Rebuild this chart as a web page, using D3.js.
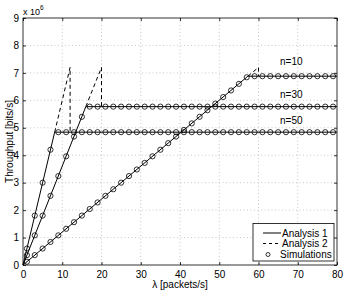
<!DOCTYPE html>
<html><head><meta charset="utf-8">
<script src="https://cdn.jsdelivr.net/npm/d3@7"></script>
<style>body{margin:0;background:#fff}svg{display:block;font-family:"Liberation Sans",Arial,sans-serif}</style>
</head><body>
<svg id="c" width="346" height="292"></svg>
<script>
const xTicks = [0,10,20,30,40,50,60,70,80];
const yTicks = [0,1,2,3,4,5,6,7,8,9];
const simLambda = [1,3,5,7,9,11,13,15,17,19,21,23,25,27,29,31,33,35,37,39,41,43,45,47,49,51,53,55,57,59,61,63,65,67,69,71,73,75,77,79];
const sim10 = [0.12,0.36,0.60,0.84,1.08,1.32,1.56,1.80,2.04,2.28,2.52,2.76,3.00,3.24,3.48,3.72,3.96,4.20,4.44,4.68,4.92,5.16,5.40,5.64,5.88,6.12,6.36,6.60,6.84,6.88,6.88,6.88,6.88,6.88,6.88,6.88,6.88,6.88,6.88,6.88];
const sim30 = [0.36,1.08,1.80,2.52,3.24,3.96,4.68,5.40,5.77,5.77,5.77,5.77,5.77,5.77,5.77,5.77,5.77,5.77,5.77,5.77,5.77,5.77,5.77,5.77,5.77,5.77,5.77,5.77,5.77,5.77,5.77,5.77,5.77,5.77,5.77,5.77,5.77,5.77,5.77,5.77];
const sim50 = [0.60,1.80,3.00,4.20,4.84,4.84,4.84,4.84,4.84,4.84,4.84,4.84,4.84,4.84,4.84,4.84,4.84,4.84,4.84,4.84,4.84,4.84,4.84,4.84,4.84,4.84,4.84,4.84,4.84,4.84,4.84,4.84,4.84,4.84,4.84,4.84,4.84,4.84,4.84,4.84];
const a1Lambda10 = [0,57.3,80], a1Val10 = [0,6.88,6.88];
const a1Lambda30 = [0,16,80],   a1Val30 = [0,5.77,5.77];
const a1Lambda50 = [0,8.07,80], a1Val50 = [0,4.84,4.84];
const a2Lambda10 = [57.3,60,60], a2Val10 = [6.88,7.2,6.88];
const a2Lambda30 = [16,20,20],   a2Val30 = [5.77,7.2,5.77];
const a2Lambda50 = [8.07,12,12], a2Val50 = [4.84,7.2,4.84];
const curveLabels = ["n=10","n=30","n=50"];
const labelVals = [7.41,6.23,5.28];
const legendLabels = ["Analysis 1","Analysis 2","Simulations"];

const svg = d3.select("#c");
const L=23,R=337,T=18,B=265;
const x = d3.scaleLinear().domain([0,80]).range([L,R]);
const y = d3.scaleLinear().domain([0,9]).range([B,T]);

// grid
const g = svg.append("g");
g.selectAll(".gx").data(xTicks.slice(1,-1)).enter().append("line")
 .attr("x1",d=>x(d)).attr("x2",d=>x(d)).attr("y1",T).attr("y2",B)
 .attr("stroke","#bbb").attr("stroke-width",0.8).attr("stroke-dasharray","1,2.5");
g.selectAll(".gy").data(yTicks.slice(1,-1)).enter().append("line")
 .attr("y1",d=>y(d)).attr("y2",d=>y(d)).attr("x1",L).attr("x2",R)
 .attr("stroke","#bbb").attr("stroke-width",0.8).attr("stroke-dasharray","1,2.5");

// axes
const fs = 10;
const xb = svg.append("g").attr("transform",`translate(0,${B})`)
 .call(d3.axisBottom(x).tickValues(xTicks).tickSize(-3).tickPadding(6));
const xt = svg.append("g").attr("transform",`translate(0,${T})`)
 .call(d3.axisTop(x).tickValues(xTicks).tickSize(-3).tickFormat(""));
const yl = svg.append("g").attr("transform",`translate(${L},0)`)
 .call(d3.axisLeft(y).tickValues(yTicks).tickSize(-3).tickPadding(4));
const yr = svg.append("g").attr("transform",`translate(${R},0)`)
 .call(d3.axisRight(y).tickValues(yTicks).tickSize(-3).tickFormat(""));
[xb,xt,yl,yr].forEach(a=>{
  a.selectAll("path").attr("stroke","#000").attr("stroke-width",0.8);
  a.selectAll("line").attr("stroke","#000").attr("stroke-width",0.8);
  a.selectAll("text").attr("font-size",fs).attr("fill","#000").attr("font-family","Liberation Sans, Arial, sans-serif");
});
svg.selectAll(".domain").attr("d",null);
svg.append("rect").attr("x",L).attr("y",T).attr("width",R-L).attr("height",B-T)
 .attr("fill","none").attr("stroke","#000").attr("stroke-width",0.8);

// lines
const line = d3.line().x(d=>x(d[0])).y(d=>y(d[1]));
const zip = (a,b)=>a.map((v,i)=>[v,b[i]]);
[[a1Lambda10,a1Val10],[a1Lambda30,a1Val30],[a1Lambda50,a1Val50]].forEach(([a,b])=>{
  svg.append("path").attr("d",line(zip(a,b))).attr("fill","none").attr("stroke","#000").attr("stroke-width",1);
});
[[a2Lambda10,a2Val10],[a2Lambda30,a2Val30],[a2Lambda50,a2Val50]].forEach(([a,b])=>{
  svg.append("path").attr("d",line(zip(a,b))).attr("fill","none").attr("stroke","#000").attr("stroke-width",1).attr("stroke-dasharray","4,3");
});
[sim10,sim30,sim50].forEach(s=>{
  svg.append("g").selectAll("circle").data(zip(simLambda,s)).enter().append("circle")
   .attr("cx",d=>x(d[0])).attr("cy",d=>y(d[1])).attr("r",2.6)
   .attr("fill","none").attr("stroke","#000").attr("stroke-width",0.8);
});

// curve labels
curveLabels.forEach((t,i)=>{
  svg.append("text").attr("x",280).attr("y",y(labelVals[i])).attr("dy","0.35em")
   .attr("font-size",fs).text(t);
});

// multiplier
const m = svg.append("text").attr("x",23).attr("y",15).attr("font-size",9);
m.append("tspan").text("x 10");
m.append("tspan").attr("font-size",6.5).attr("dy",-5).text("6");

// axis labels
svg.append("text").attr("x",(L+R)/2).attr("y",288).attr("text-anchor","middle").attr("font-size",fs).text("λ [packets/s]");
svg.append("text").attr("transform",`translate(9,${(T+B)/2}) rotate(-90)`).attr("text-anchor","middle")
 .attr("dy","0.35em").attr("font-size",fs).text("Throughput [bits/s]");

// legend
const lg = svg.append("g");
lg.append("rect").attr("x",253).attr("y",223.5).attr("width",81).attr("height",37.5)
 .attr("fill","#fff").attr("stroke","#000").attr("stroke-width",0.8);
const rows = [233,243.5,254.5];
lg.append("line").attr("x1",263).attr("x2",281).attr("y1",rows[0]).attr("y2",rows[0]).attr("stroke","#000").attr("stroke-width",1);
lg.append("line").attr("x1",263).attr("x2",281).attr("y1",rows[1]).attr("y2",rows[1]).attr("stroke","#000").attr("stroke-width",1).attr("stroke-dasharray","3,3");
lg.append("circle").attr("cx",268).attr("cy",rows[2]).attr("r",2).attr("fill","none").attr("stroke","#000").attr("stroke-width",0.8);
legendLabels.forEach((t,i)=>{
  lg.append("text").attr("x",i==2?280:282).attr("y",rows[i]).attr("dy","0.35em").attr("font-size",fs).text(t);
});
</script>
</body></html>
